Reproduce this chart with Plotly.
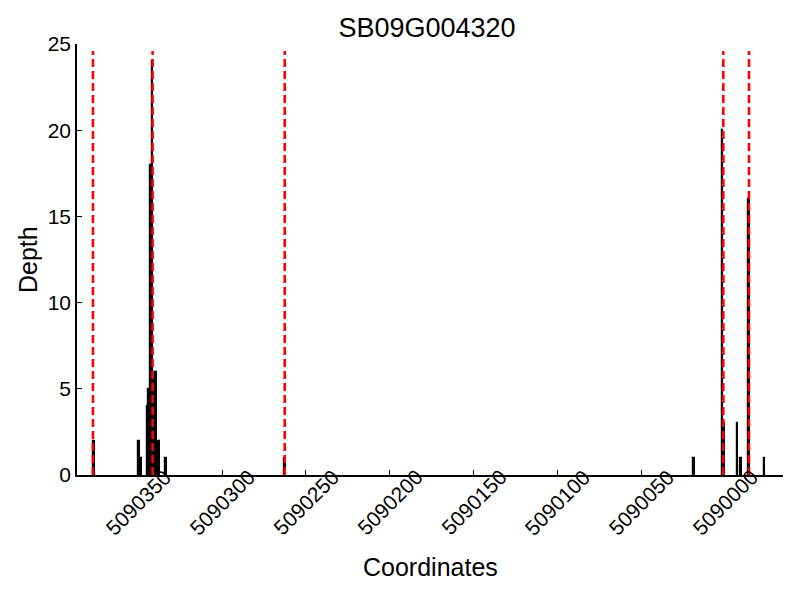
import plotly.graph_objects as go

# Data
positions = [5090376, 5090349, 5090348, 5090344, 5090343, 5090342, 5090341,
             5090340, 5090339, 5090337, 5090333, 5090262,
             5090018, 5090001, 5090000, 5089992, 5089990, 5089985, 5089976]
depths = [2, 2, 1, 4, 5, 18, 24,
          6, 6, 2, 1, 1,
          1, 20, 3, 3, 1, 16, 1]
boundaries = [5090377, 5090341.4, 5090262.6, 5090001, 5089985.7]
xtick_vals = [5090350, 5090300, 5090250, 5090200, 5090150, 5090100, 5090050, 5090000]
xtick_text = [str(v) for v in xtick_vals]
ytick_vals = [0, 5, 10, 15, 20, 25]

FONT = "Liberation Sans, Arial, sans-serif"

# page has an 8px body margin: figure drawn 792x592 so window coords match
W, H = 792, 592
L, R, T, B = 69, 17, 36, 125
PW, PH = W - L - R, H - T - B

fig = go.Figure()
fig.add_trace(go.Bar(
    x=positions, y=depths, width=1, offset=0,
    marker=dict(color="black", line=dict(color="black", width=1.2)),
    showlegend=False,
))

for b in boundaries:
    fig.add_shape(type="line", xref="x", yref="y", x0=b, x1=b, y0=0, y1=24.6,
                  line=dict(color="red", width=2.6, dash="8px,4px"), layer="above")

for v, t in zip(xtick_vals, xtick_text):
    fig.add_annotation(x=v, xref="x", y=-27 / PH, yref="paper", text=t,
                       textangle=-45, showarrow=False, xanchor="center", yanchor="middle",
                       font=dict(family=FONT, size=21, color="black"))

fig.add_annotation(x=0.5, xref="paper", y=-92 / PH, yref="paper", text="Coordinates",
                   showarrow=False, xanchor="center", yanchor="middle",
                   font=dict(family=FONT, size=25, color="black"))
fig.add_annotation(x=-49 / PW, xref="paper", y=(475 - 260) / PH, yref="paper", text="Depth",
                   showarrow=False, textangle=-90, xanchor="center", yanchor="middle",
                   font=dict(family=FONT, size=25, color="black"))

fig.update_layout(
    width=W, height=H,
    margin=dict(l=L, r=R, t=T, b=B),
    plot_bgcolor="white", paper_bgcolor="white",
    title=dict(text="SB09G004320", x=419 / W, xanchor="center",
               y=1 - 20 / H, yanchor="middle",
               font=dict(family=FONT, size=27, color="black")),
    xaxis=dict(range=[5090386.5, 5089965.4], showgrid=False, zeroline=False,
               tickvals=xtick_vals, showticklabels=False,
               ticks="inside", ticklen=5, tickwidth=1, tickcolor="black",
               showline=True, linecolor="black", linewidth=1.5),
    yaxis=dict(range=[0, 25], showgrid=False, zeroline=False,
               tickvals=ytick_vals, ticks="inside", ticklen=5, tickwidth=1,
               tickcolor="black", showline=True, linecolor="black", linewidth=1.5,
               tickfont=dict(family=FONT, size=21, color="black")),
    bargap=0,
)

fig.write_html("out.html")
